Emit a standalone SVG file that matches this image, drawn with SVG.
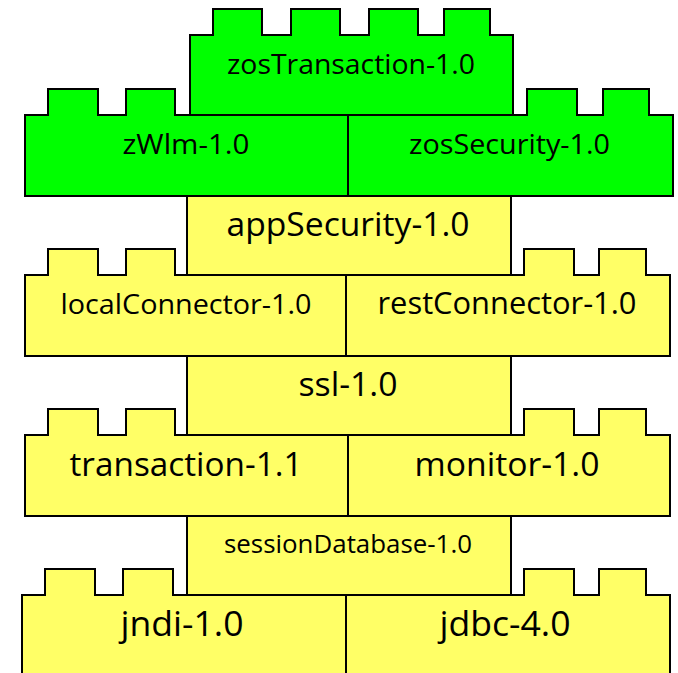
<svg xmlns="http://www.w3.org/2000/svg" width="678" height="673" viewBox="0 0 678 673">
<style>
.blk{stroke:#000;stroke-width:2;stroke-linejoin:miter}
.g{fill:#00ff00}
.y{fill:#ffff66}
text{font-family:"Open Sans","Noto Sans","DejaVu Sans",sans-serif;fill:#000;text-anchor:middle}
</style>
<rect width="678" height="673" fill="#fff"/>
<g id="connectors"/>
<g id="zosTransaction">
<path class="blk g" d="M190,116 V35 H213 V9 H262 V35 H291 V9 H340 V35 H369 V9 H418 V35 H444 V9 H490 V35 H513 V116 Z"/>
<text x="351" y="74" font-size="28" textLength="248" lengthAdjust="spacingAndGlyphs">zosTransaction-1.0</text>
</g>
<g id="zWlm">
<path class="blk g" d="M25,196 V115 H48 V89 H98 V115 H126 V89 H175 V115 H348 V196 Z"/>
<text x="186" y="154" font-size="28" textLength="127" lengthAdjust="spacingAndGlyphs">zWlm-1.0</text>
</g>
<g id="zosSecurity">
<path class="blk g" d="M348,196 V115 H527 V89 H577 V115 H603 V89 H649 V115 H673 V196 Z"/>
<text x="509.5" y="154" font-size="28" textLength="201" lengthAdjust="spacingAndGlyphs">zosSecurity-1.0</text>
</g>
<g id="appSecurity">
<path class="blk y" d="M187,196 H511 V276 H187 Z"/>
<text x="348" y="236" font-size="33" textLength="243" lengthAdjust="spacingAndGlyphs">appSecurity-1.0</text>
</g>
<g id="localConnector">
<path class="blk y" d="M25,356 V275 H48 V249 H98 V275 H126 V249 H175 V275 H346 V356 Z"/>
<text x="186" y="313.5" font-size="28" textLength="251" lengthAdjust="spacingAndGlyphs">localConnector-1.0</text>
</g>
<g id="restConnector">
<path class="blk y" d="M346,356 V275 H524 V249 H574 V275 H599 V249 H646 V275 H670 V356 Z"/>
<text x="507" y="314" font-size="30.5" textLength="259" lengthAdjust="spacingAndGlyphs">restConnector-1.0</text>
</g>
<g id="ssl">
<path class="blk y" d="M187,356 H511 V436 H187 Z"/>
<text x="348" y="396" font-size="33" textLength="99" lengthAdjust="spacingAndGlyphs">ssl-1.0</text>
</g>
<g id="transaction">
<path class="blk y" d="M25,516 V435 H48 V409 H98 V435 H126 V409 H175 V435 H348 V516 Z"/>
<text x="186" y="476" font-size="33" textLength="233" lengthAdjust="spacingAndGlyphs">transaction-1.1</text>
</g>
<g id="monitor">
<path class="blk y" d="M348,516 V435 H524 V409 H574 V435 H599 V409 H646 V435 H670 V516 Z"/>
<text x="507" y="476" font-size="33" textLength="185" lengthAdjust="spacingAndGlyphs">monitor-1.0</text>
</g>
<g id="sessionDatabase">
<path class="blk y" d="M187,516 H511 V596 H187 Z"/>
<text x="348" y="552.5" font-size="25.5" textLength="248" lengthAdjust="spacingAndGlyphs">sessionDatabase-1.0</text>
</g>
<g id="jndi">
<path class="blk y" d="M22,680 V595 H45 V569 H95 V595 H123 V569 H173 V595 H346 V680 Z"/>
<text x="182" y="636" font-size="34.5" textLength="123" lengthAdjust="spacingAndGlyphs">jndi-1.0</text>
</g>
<g id="jdbc">
<path class="blk y" d="M346,680 V595 H524 V569 H574 V595 H599 V569 H646 V595 H670 V680 Z"/>
<text x="505" y="636" font-size="34.5" textLength="131" lengthAdjust="spacingAndGlyphs">jdbc-4.0</text>
</g>
</svg>
